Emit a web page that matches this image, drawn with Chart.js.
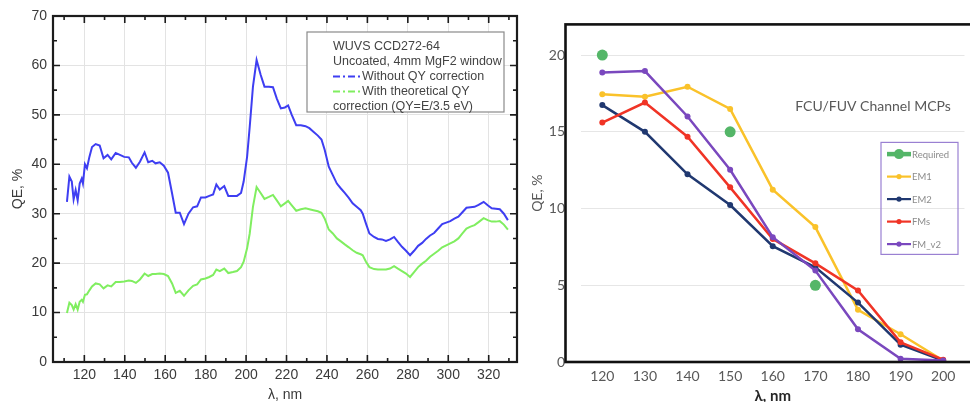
<!DOCTYPE html>
<html lang="en">
<head>
<meta charset="UTF-8">
<title>QE curves</title>
<script src="https://cdn.jsdelivr.net/npm/chart.js"></script>
<style>
  html, body { margin: 0; padding: 0; background: #fff; overflow: hidden; }
  #wrap { position: relative; width: 970px; height: 402px; }
  #left { position: absolute; left: 0; top: 0; }
  #right { position: absolute; left: 530px; top: 0; }
</style>
</head>
<body>
<div id="wrap">
  <canvas id="left" width="530" height="402"></canvas>
  <canvas id="right" width="440" height="402"></canvas>
</div>
<script>
// ---- left panel: WUVS CCD272-64 ----
const wavelengthA = [
  111.4, 112.6, 113.8, 114.7, 115.7, 116.7, 117.7, 118.7, 119.3, 120.3,
  121.3, 122.5, 123.8, 125.6, 127.6, 129.5, 131.5, 133.3, 135.5, 137.6,
  139.7, 142.0, 143.5, 145.5, 147.5, 149.8, 151.6, 153.6, 155.2, 157.3,
  159.3, 161.4, 163.4, 165.2, 167.2, 169.3, 171.5, 173.8, 175.8, 177.7,
  179.9, 181.8, 183.7, 185.3, 187.0, 189.2, 191.2, 193.5, 195.5, 197.5,
  198.8, 200.5, 201.8, 203.4, 205.2, 207.2, 209.1, 211.3, 213.3, 215.2,
  217.2, 219.2, 220.8, 222.6, 224.8, 227.1, 229.4, 231.3, 233.3, 235.5,
  237.3, 238.9, 240.9, 242.9, 244.9, 246.9, 248.8, 250.8, 252.7, 254.7,
  256.7, 257.7, 259.3, 261.0, 263.3, 265.2, 267.2, 269.2, 271.2, 273.2,
  275.1, 277.1, 279.1, 281.1, 283.1, 285.1, 287.1, 289.0, 291.0, 293.0,
  295.0, 297.0, 299.0, 301.0, 303.0, 305.0, 307.0, 309.0, 311.0, 313.0,
  315.0, 317.5, 319.5, 321.5, 323.5, 325.5, 327.5, 329.5
];
const qeWithoutQY = [
  32.4, 37.5, 36.5, 32.9, 34.8, 32.7, 36.1, 37.1, 36.1, 40.0,
  39.2, 41.5, 43.5, 44.1, 43.8, 41.2, 41.9, 41.0, 42.3, 41.9,
  41.5, 41.4, 40.3, 39.3, 40.5, 42.4, 40.4, 40.7, 40.2, 40.4,
  39.7, 38.3, 34.1, 30.2, 30.2, 27.9, 30.0, 31.3, 31.5, 33.3,
  33.3, 33.6, 33.9, 35.9, 34.9, 35.6, 33.6, 33.6, 33.6, 34.2,
  36.5, 41.5, 47.6, 55.7, 61.1, 58.1, 55.7, 55.7, 55.6, 53.3,
  51.3, 51.5, 51.9, 50.0, 47.9, 47.9, 47.7, 47.3, 46.6, 45.8,
  45.0, 42.9, 39.5, 37.8, 36.1, 35.1, 34.2, 33.2, 32.1, 31.4,
  30.7, 30.0, 28.0, 26.0, 25.3, 24.9, 24.8, 24.5, 24.8, 25.3,
  24.3, 23.3, 22.5, 21.6, 22.5, 23.5, 24.1, 24.9, 25.6, 26.1,
  27.0, 27.9, 28.2, 28.5, 29.0, 29.4, 30.3, 31.2, 31.3, 31.4,
  31.8, 32.4, 31.7, 31.1, 31.0, 30.9, 30.0, 28.7
];
const qeWithQY = [
  9.9, 12.0, 11.5, 10.6, 11.7, 10.6, 12.2, 12.6, 12.2, 13.6,
  13.7, 14.5, 15.3, 15.9, 15.7, 14.9, 15.5, 15.3, 16.2, 16.2,
  16.3, 16.5, 16.4, 16.0, 16.7, 17.9, 17.4, 17.8, 17.8, 17.9,
  17.8, 17.4, 15.9, 14.0, 14.4, 13.4, 14.5, 15.4, 15.7, 16.7,
  16.9, 17.2, 17.6, 18.7, 18.4, 18.9, 18.0, 18.2, 18.4, 19.2,
  20.3, 23.0, 26.0, 31.4, 35.4, 34.2, 33.0, 33.4, 33.8, 32.7,
  31.5, 32.1, 32.6, 31.7, 30.6, 30.9, 31.1, 30.9, 30.7, 30.5,
  30.2, 29.0, 26.8, 26.0, 25.0, 24.4, 23.8, 23.2, 22.6, 22.1,
  21.8, 21.6, 20.3, 19.2, 18.8, 18.7, 18.7, 18.7, 18.9, 19.4,
  18.9, 18.4, 17.9, 17.2, 18.2, 19.2, 19.9, 20.5, 21.3, 21.9,
  22.5, 23.2, 23.6, 24.0, 24.4, 25.0, 26.0, 27.0, 27.4, 27.7,
  28.3, 29.1, 28.7, 28.4, 28.4, 28.5, 27.8, 26.8
];
const xTicksA = [120, 140, 160, 180, 200, 220, 240, 260, 280, 300, 320];
const xMinorA = [110, 120, 130, 140, 150, 160, 170, 180, 190, 200, 210, 220,
                 230, 240, 250, 260, 270, 280, 290, 300, 310, 320, 330];
const yTicksA = [0, 10, 20, 30, 40, 50, 60, 70];
const yMinorA = [5, 10, 15, 20, 25, 30, 35, 40, 45, 50, 55, 60, 65];
const legendHeadA = ['WUVS CCD272-64', 'Uncoated, 4mm MgF2 window'];
const seriesNamesA = [['Without QY correction'], ['With theoretical QY', 'correction (QY=E/3.5 eV)']];

// ---- right panel: FCU/FUV channel MCPs ----
const wavelengthB = [120, 130, 140, 150, 160, 170, 180, 190, 200];
const requiredX = [120, 150, 170];
const requiredQE = [20, 15, 5];
const em1 = [17.45, 17.28, 17.94, 16.49, 11.23, 8.79, 3.40, 1.81, 0.1];
const em2 = [16.74, 15.0, 12.23, 10.23, 7.55, 6.17, 3.87, 1.13, 0.1];
const fms = [15.6, 16.91, 14.68, 11.38, 8.02, 6.43, 4.66, 1.28, 0.15];
const fmV2 = [18.87, 18.96, 16.0, 12.53, 8.13, 5.96, 2.13, 0.21, 0.1];
const yTicksB = [0, 5, 10, 15, 20];
const titleB = 'FCU/FUV Channel MCPs';

const pts = (xs, ys) => xs.map((x, i) => ({ x: x, y: ys[i] }));
const fixTicks = arr => scale => { scale.ticks = arr.map(v => ({ value: v })); };

// frame + inward ticks for the left plot
const leftFrame = {
  id: 'leftFrame',
  afterDatasetsDraw(chart) {
    const { ctx, chartArea: a, scales: { x, y } } = chart;
    ctx.save();
    ctx.strokeStyle = '#1c1c1c';
    ctx.lineWidth = 1.6;
    ctx.beginPath();
    xMinorA.forEach(v => {
      const px = x.getPixelForValue(v);
      const len = xTicksA.includes(v) ? 7 : 4;
      ctx.moveTo(px, a.bottom); ctx.lineTo(px, a.bottom - len);
      ctx.moveTo(px, a.top); ctx.lineTo(px, a.top + len);
    });
    yMinorA.forEach(v => {
      const py = y.getPixelForValue(v);
      const len = yTicksA.includes(v) ? 7 : 4;
      ctx.moveTo(a.left, py); ctx.lineTo(a.left + len, py);
      ctx.moveTo(a.right, py); ctx.lineTo(a.right - len, py);
    });
    ctx.stroke();
    ctx.lineWidth = 2.2;
    ctx.strokeRect(a.left, a.top, a.right - a.left, a.bottom - a.top);
    ctx.restore();
  },
  afterDraw(chart) {
    const { ctx, chartArea: a } = chart;
    const bx = a.left + 254, by = a.top + 16, bw = 197, bh = 80;
    ctx.save();
    ctx.fillStyle = '#fff';
    ctx.fillRect(bx, by, bw, bh);
    ctx.strokeStyle = '#8a8a8a';
    ctx.lineWidth = 1.2;
    ctx.strokeRect(bx, by, bw, bh);
    ctx.font = '12.5px "Liberation Sans", Arial, sans-serif';
    ctx.fillStyle = '#444';
    ctx.textBaseline = 'middle';
    let ty = by + 14.5;
    const tx = bx + 26;
    legendHeadA.forEach(t => { ctx.fillText(t, tx, ty); ty += 15; });
    chart.data.datasets.forEach((ds, i) => {
      ctx.strokeStyle = ds.borderColor;
      ctx.lineWidth = 2;
      ctx.setLineDash([7, 3, 2, 3]);
      ctx.beginPath();
      ctx.moveTo(tx, ty); ctx.lineTo(tx + 27, ty);
      ctx.stroke();
      ctx.setLineDash([]);
      seriesNamesA[i].forEach((t, j) => {
        ctx.fillText(t, j === 0 ? tx + 29 : tx, ty);
        ty += 15;
      });
    });
    ctx.restore();
  }
};

new Chart(document.getElementById('left'), {
  type: 'line',
  data: {
    datasets: [
      { label: seriesNamesA[0][0], data: pts(wavelengthA, qeWithoutQY),
        borderColor: 'rgb(62,62,242)', borderWidth: 2, pointRadius: 0, tension: 0 },
      { label: seriesNamesA[1].join(' '), data: pts(wavelengthA, qeWithQY),
        borderColor: 'rgb(128,238,96)', borderWidth: 2, pointRadius: 0, tension: 0 }
    ]
  },
  options: {
    responsive: false,
    animation: false,
    layout: { padding: { top: 16, right: 13, left: 0, bottom: 0 } },
    plugins: { legend: { display: false }, tooltip: { enabled: false } },
    scales: {
      x: {
        type: 'linear', min: 104.5, max: 334,
        afterBuildTicks: fixTicks(xTicksA),
        afterFit: s => { s.height = 40; },
        grid: { color: '#e3e3e3', drawTicks: false },
        border: { display: false },
        ticks: { color: '#3a3a3a', padding: 5, font: { family: '"Liberation Sans", Arial', size: 14 } },
        title: { display: true, text: 'λ, nm', color: '#3a3a3a', padding: { top: 0, bottom: 0 },
                 font: { family: '"Liberation Sans", Arial', size: 14, lineHeight: 1 } }
      },
      y: {
        min: 0, max: 70,
        afterBuildTicks: fixTicks(yTicksA),
        afterFit: s => { s.width = 53; },
        grid: { color: '#e3e3e3', drawTicks: false },
        border: { display: false },
        ticks: { color: '#3a3a3a', padding: 6, font: { family: '"Liberation Sans", Arial', size: 14 } },
        title: { display: true, text: 'QE, %', color: '#3a3a3a', padding: { top: 11, bottom: 0 },
                 font: { family: '"Liberation Sans", Arial', size: 14, lineHeight: 1 } }
      }
    }
  },
  plugins: [leftFrame]
});

// frame, title and legend for the right plot
const rightDeco = {
  id: 'rightDeco',
  afterDraw(chart) {
    const { ctx, chartArea: a } = chart;
    ctx.save();
    ctx.strokeStyle = '#111';
    ctx.lineWidth = 2.6;
    ctx.strokeRect(a.left - 15.5, a.top, a.right - a.left + 30, a.bottom - a.top);

    ctx.font = '14px Lato, "Open Sans", sans-serif';
    ctx.fillStyle = '#595959';
    ctx.textAlign = 'center';
    ctx.textBaseline = 'middle';
    ctx.fillText(titleB, a.left + 292, a.top + 82);

    const bx = a.left + 300, by = a.top + 118, bw = 77, bh = 112;
    ctx.strokeStyle = '#9a80d2';
    ctx.lineWidth = 1.2;
    ctx.strokeRect(bx, by, bw, bh);
    ctx.textAlign = 'left';
    ctx.font = '9.5px Lato, "Open Sans", sans-serif';
    chart.data.datasets.forEach((ds, i) => {
      const iy = by + 11.7 + i * 22.5;
      const big = ds.showLine === false;
      ctx.strokeStyle = ds.borderColor;
      ctx.fillStyle = ds.borderColor;
      ctx.lineWidth = big ? 4.5 : 2.2;
      ctx.beginPath();
      ctx.moveTo(bx + 6, iy); ctx.lineTo(bx + 30, iy);
      ctx.stroke();
      ctx.beginPath();
      ctx.arc(bx + 18, iy, big ? 5 : 2.6, 0, Math.PI * 2);
      ctx.fill();
      ctx.fillStyle = '#8c8c8c';
      ctx.fillText(ds.label, bx + 31, iy + 0.5);
    });
    ctx.restore();
  }
};

const lineSet = (label, ys, color, order) => ({
  label: label, data: pts(wavelengthB, ys), order: order,
  borderColor: color, backgroundColor: color, pointBackgroundColor: color,
  borderWidth: 2.5, pointRadius: 3, pointBorderWidth: 0, tension: 0
});

new Chart(document.getElementById('right'), {
  type: 'line',
  data: {
    datasets: [
      { label: 'Required', data: pts(requiredX, requiredQE), showLine: false, order: 5,
        borderColor: 'rgb(84,182,104)', backgroundColor: 'rgb(84,182,104)',
        pointBackgroundColor: 'rgb(84,182,104)', pointRadius: 5.5, pointBorderWidth: 0 },
      lineSet('EM1', em1, 'rgb(250,194,42)', 4),
      lineSet('EM2', em2, 'rgb(32,56,112)', 3),
      lineSet('FMs', fms, 'rgb(240,52,38)', 2),
      lineSet('FM_v2', fmV2, 'rgb(122,72,190)', 1)
    ]
  },
  options: {
    responsive: false,
    animation: false,
    layout: { padding: { top: 16, right: 0, left: 0, bottom: 0 } },
    plugins: { legend: { display: false }, tooltip: { enabled: false } },
    scales: {
      x: {
        type: 'linear', min: 115, max: 205,
        afterBuildTicks: fixTicks(wavelengthB),
        afterFit: s => { s.height = 40; },
        grid: { display: false, drawTicks: false },
        border: { display: false },
        ticks: { color: '#595959', padding: 6, font: { family: 'Lato', size: 14 } },
        title: { display: true, text: 'λ, nm', color: '#262626', padding: { top: 0, bottom: -2 },
                 font: { family: 'Lato', size: 15, weight: 'bold', lineHeight: 1 } }
      },
      y: {
        min: 0, max: 22,
        afterBuildTicks: fixTicks(yTicksB),
        afterFit: s => { s.width = 51; },
        grid: { color: '#e6e6e6', drawTicks: false },
        border: { display: false },
        ticks: { color: '#595959', padding: 16, font: { family: 'Lato', size: 14 } },
        title: { display: true, text: 'QE, %', color: '#595959', padding: { top: 0, bottom: 0 },
                 font: { family: 'Lato', size: 14, lineHeight: 1 } }
      }
    }
  },
  plugins: [rightDeco]
});
</script>
</body>
</html>
